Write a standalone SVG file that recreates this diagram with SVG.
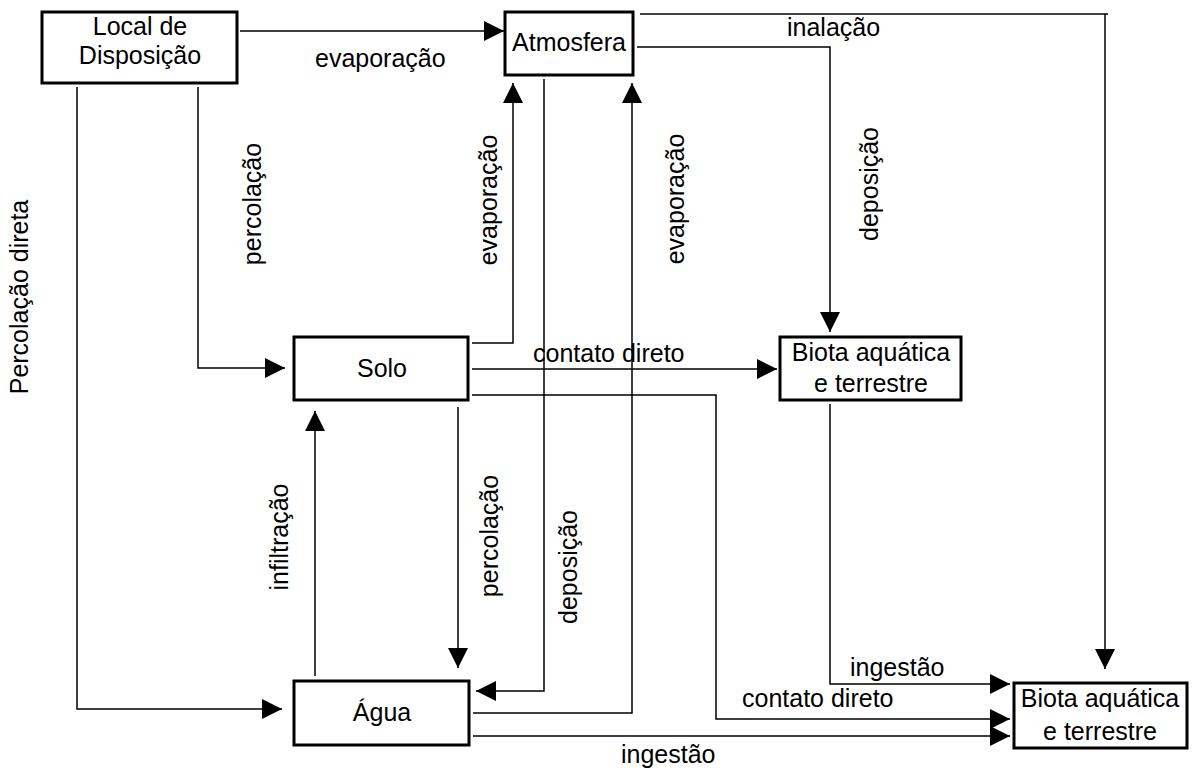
<svg xmlns="http://www.w3.org/2000/svg" width="1192" height="774" viewBox="0 0 1192 774">
  <style>
    .box { fill: #ffffff; stroke: #000000; stroke-width: 3; }
    .lbl { font-family: "Liberation Sans", Arial, sans-serif; font-size: 25px; fill: #000000; }
    .mid { text-anchor: middle; }
    .wire { fill: none; stroke: #000000; stroke-width: 1.5; }
    .arr { marker-end: url(#head); }
  </style>
  <defs>
    <marker id="head" markerUnits="userSpaceOnUse" markerWidth="20" markerHeight="20" viewBox="0 0 18 18" refX="18" refY="9" orient="auto">
      <path d="M0,0 L18,9 L0,18 Z" fill="#000000"/>
    </marker>
  </defs>

  <rect width="1192" height="774" fill="#ffffff"/>

  <!-- flows between compartments -->
  <g id="connectors">
    <path class="wire arr" d="M240,31 H504"/>
    <path class="wire" d="M640,14 H1108"/>
    <path class="wire arr" d="M1105,14 V669"/>
    <path class="wire arr" d="M637,47 H830 V332"/>
    <path class="wire arr" d="M77,87 V709 H282"/>
    <path class="wire arr" d="M198,87 V368 H285"/>
    <path class="wire arr" d="M472,343 H513 V83"/>
    <path class="wire arr" d="M472,369 H777"/>
    <path class="wire arr" d="M472,395 H716 V719 H1010"/>
    <path class="wire arr" d="M458,407 V668"/>
    <path class="wire arr" d="M315,676 V411"/>
    <path class="wire arr" d="M544,79 V691 H476"/>
    <path class="wire arr" d="M473,713 H632 V83"/>
    <path class="wire arr" d="M473,736 H1010"/>
    <path class="wire arr" d="M830,404 V684 H1010"/>

    <!-- flow labels -->
    <text class="lbl" x="315" y="67">evaporação</text>
    <text class="lbl" x="787" y="36">inalação</text>
    <text class="lbl" x="533" y="362">contato direto</text>
    <text class="lbl" x="850" y="676">ingestão</text>
    <text class="lbl" x="742" y="707">contato direto</text>
    <text class="lbl" x="621" y="763">ingestão</text>
    <text class="lbl mid" transform="translate(28,297) rotate(-90)">Percolação direta</text>
    <text class="lbl mid" transform="translate(261,204) rotate(-90)">percolação</text>
    <text class="lbl mid" transform="translate(497,200) rotate(-90)">evaporação</text>
    <text class="lbl mid" transform="translate(684,199) rotate(-90)">evaporação</text>
    <text class="lbl mid" transform="translate(878,184) rotate(-90)">deposição</text>
    <text class="lbl mid" transform="translate(288,537) rotate(-90)">infiltração</text>
    <text class="lbl mid" transform="translate(498,536) rotate(-90)">percolação</text>
    <text class="lbl mid" transform="translate(577,567) rotate(-90)">deposição</text>
  </g>

  <g id="local">
    <rect class="box" x="42" y="12" width="195" height="71"/>
    <text class="lbl mid" x="140" y="35">Local de</text>
    <text class="lbl mid" x="140" y="64">Disposição</text>
  </g>

  <g id="atmosfera">
    <rect class="box" x="505" y="12" width="128" height="63"/>
    <text class="lbl mid" x="569" y="51">Atmosfera</text>
  </g>

  <g id="solo">
    <rect class="box" x="294" y="337" width="174" height="63"/>
    <text class="lbl mid" x="382" y="377">Solo</text>
  </g>

  <g id="biota-1">
    <rect class="box" x="780" y="337" width="181" height="63"/>
    <text class="lbl mid" x="871" y="361">Biota aquática</text>
    <text class="lbl mid" x="871" y="392">e terrestre</text>
  </g>

  <g id="agua">
    <rect class="box" x="294" y="681" width="175" height="64"/>
    <text class="lbl mid" x="382" y="721">Água</text>
  </g>

  <g id="biota-2">
    <rect class="box" x="1014" y="683" width="173" height="65"/>
    <text class="lbl mid" x="1100" y="707">Biota aquática</text>
    <text class="lbl mid" x="1100" y="740">e terrestre</text>
  </g>
</svg>
